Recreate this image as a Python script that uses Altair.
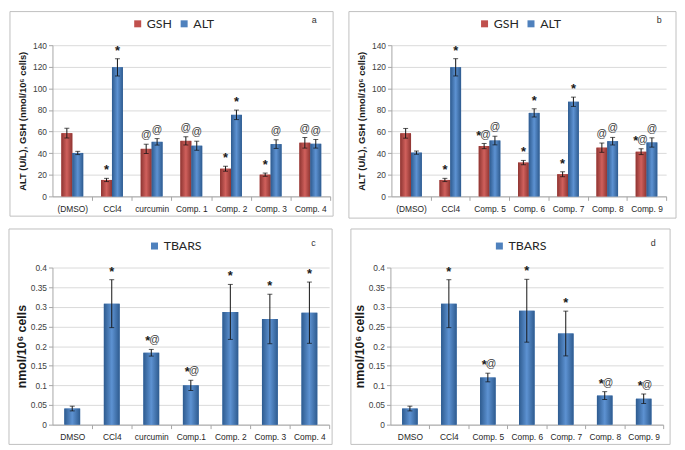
import altair as alt
import pandas as pd

# ---------------- data ----------------
cats_a = ["(DMSO)", "CCl4", "curcumin", "Comp. 1", "Comp. 2", "Comp. 3", "Comp. 4"]
a_gsh = [58.5, 15.2, 44.0, 51.4, 25.6, 20.1, 49.6]
a_gsh_err = [4.5, 1.5, 4.3, 3.8, 2.3, 1.5, 4.9]
a_alt = [40.2, 119.5, 50.5, 46.9, 75.5, 48.4, 48.7]
a_alt_err = [1.5, 8.0, 3.0, 4.2, 4.4, 4.0, 4.0]
a_gsh_sig = ["", "*", "@", "@", "*", "*", "@"]
a_alt_sig = ["", "*", "@", "@", "*", "@", "@"]

cats_b = ["(DMSO)", "CCl4", "Comp. 5", "Comp. 6", "Comp. 7", "Comp. 8", "Comp. 9"]
b_gsh = [58.4, 15.2, 46.6, 31.3, 20.5, 45.1, 41.4]
b_gsh_err = [4.5, 1.5, 2.4, 2.0, 2.3, 4.3, 2.7]
b_alt = [40.5, 119.5, 51.7, 77.3, 87.6, 51.1, 49.9]
b_alt_err = [1.5, 8.0, 4.0, 3.8, 4.3, 3.5, 4.3]
b_gsh_sig = ["", "*", "*@", "*", "*", "@", "*@"]
b_alt_sig = ["", "*", "@", "*", "*", "@", "@"]

cats_c = ["DMSO", "CCl4", "curcumin", "Comp.1", "Comp. 2", "Comp. 3", "Comp. 4"]
c_tbars = [0.041, 0.308, 0.183, 0.100, 0.287, 0.269, 0.285]
c_err = [0.006, 0.061, 0.0085, 0.013, 0.070, 0.063, 0.078]
c_sig = ["", "*", "*@", "*@", "*", "*", "*"]

cats_d = ["DMSO", "CCl4", "Comp. 5", "Comp. 6", "Comp. 7", "Comp. 8", "Comp. 9"]
d_tbars = [0.041, 0.308, 0.120, 0.290, 0.232, 0.074, 0.066]
d_err = [0.006, 0.061, 0.011, 0.080, 0.057, 0.010, 0.012]
d_sig = ["", "*", "*@", "*", "*", "*@", "*@"]

title_ab = "ALT (U/L), GSH (nmol/10\u2076 cells)"
title_cd = "nmol/10\u2076 cells"

# ---------------- style ----------------
RED, BLUE = "#c0504d", "#4f81bd"
LABEL_FONT = "Liberation Sans"


def grad(dark, light):
    return alt.Gradient(
        gradient="linear",
        stops=[alt.GradientStop(color=dark, offset=0),
               alt.GradientStop(color=light, offset=0.5),
               alt.GradientStop(color=dark, offset=1)],
        x1=0, x2=1, y1=0, y2=0)


RED_G = grad("#8e3532", "#d0605c")
BLUE_G = grad("#2e5b8f", "#5d92d2")


def y_axis(title, values, tsize, tpad, fmt):
    return alt.Axis(values=values, grid=True, gridColor="#d9d9d9", domainColor="#a6a6a6",
                    tickColor="#a6a6a6", tickSize=4, labelFont=LABEL_FONT, labelFontSize=8.5,
                    labelColor="#404040", labelPadding=2, title=title, titleFont=LABEL_FONT,
                    titleFontSize=tsize, titleFontWeight="bold", titleColor="#1a1a1a",
                    minExtent=22, maxExtent=22, titlePadding=tpad, format=fmt)


def x_axis(step, fs):
    return alt.Axis(title=None, labelAngle=0, grid=False, domainColor="#a6a6a6",
                    tickColor="#a6a6a6", tickSize=4, tickOffset=step / 2, labelOffset=-step / 2,
                    labelFont=LABEL_FONT, labelFontSize=fs, labelColor="#262626", labelPadding=4)


def legend(legx):
    return alt.Legend(orient="none", legendX=legx, legendY=-28, direction="horizontal",
                      title=None, symbolType="square", symbolSize=50, labelFont="Lato",
                      labelFontSize=12.5, labelColor="#262626", columnPadding=6, labelOffset=3,
                      symbolStrokeWidth=0)


def frame(W, H, bl, br, bt, bb, letter, lx):
    one = pd.DataFrame({"k": [0]})
    border = alt.Chart(one).mark_rect(fillOpacity=0, stroke="#bfbfbf", strokeWidth=1).encode(
        x=alt.value(-bl), x2=alt.value(W + br), y=alt.value(-bt), y2=alt.value(H + bb))
    let = alt.Chart(one).mark_text(font=LABEL_FONT, fontSize=9, color="#333333").encode(
        x=alt.value(lx), y=alt.value(-25), text=alt.value(letter))
    return border, let


def sig_layers(base, enc, shift):
    star_kw = dict(font=LABEL_FONT, fontSize=13, fontWeight="bold", color="#1a1a1a",
                   baseline="alphabetic", dy=-4)
    at_kw = dict(font=LABEL_FONT, fontSize=10.5, color="#3a3a3a", baseline="alphabetic", dy=-6)
    star = base.transform_filter(alt.datum.sig == "*").mark_text(**star_kw).encode(
        **enc, text=alt.value("*"))
    at = base.transform_filter(alt.datum.sig == "@").mark_text(**at_kw).encode(
        **enc, text=alt.value("@"))
    cstar = base.transform_filter(alt.datum.sig == "*@").mark_text(
        align="right", dx=-1 + shift, **star_kw).encode(**enc, text=alt.value("*"))
    cat = base.transform_filter(alt.datum.sig == "*@").mark_text(
        align="left", dx=-2 + shift, **at_kw).encode(**enc, text=alt.value("@"))
    return [star, at, cstar, cat]


def grouped_panel(cats, gsh, gsh_e, altv, alt_e, gsh_s, alt_s, letter, W, H, bl, br, bt, bb, legx, lx):
    rows = []
    for i, c in enumerate(cats):
        rows.append(dict(cat=c, series="GSH", value=gsh[i], lo=gsh[i] - gsh_e[i],
                         hi=gsh[i] + gsh_e[i], sig=gsh_s[i]))
        rows.append(dict(cat=c, series="ALT", value=altv[i], lo=altv[i] - alt_e[i],
                         hi=altv[i] + alt_e[i], sig=alt_s[i]))
    df = pd.DataFrame(rows)
    step = W / len(cats)
    x = alt.X("cat:N", sort=cats, scale=alt.Scale(paddingInner=0.45, paddingOuter=0.225),
              axis=x_axis(step, 8.5))
    xo = alt.XOffset("series:N", sort=["GSH", "ALT"],
                     scale=alt.Scale(domain=["GSH", "ALT"], paddingInner=0, paddingOuter=0))
    ysc = alt.Scale(domain=[0, 140], nice=False)
    yax = y_axis(title_ab, list(range(0, 141, 20)), 9.5, 3, "d")
    base = alt.Chart(df)
    bars = base.mark_bar().encode(
        x=x, xOffset=xo, y=alt.Y("value:Q", scale=ysc, axis=yax),
        color=alt.Color("series:N", sort=["GSH", "ALT"],
                        scale=alt.Scale(domain=["GSH", "ALT"], range=[RED, BLUE]),
                        legend=legend(legx)))
    over_g = base.transform_filter(alt.datum.series == "GSH").mark_bar(fill=RED_G).encode(
        x=x, xOffset=xo, y=alt.Y("value:Q", scale=ysc, axis=yax))
    over_a = base.transform_filter(alt.datum.series == "ALT").mark_bar(fill=BLUE_G).encode(
        x=x, xOffset=xo, y=alt.Y("value:Q", scale=ysc, axis=yax))
    rules = base.mark_rule(color="#111111", strokeWidth=1).encode(
        x=x, xOffset=xo, y=alt.Y("lo:Q", scale=ysc, axis=yax), y2="hi:Q")
    cap_lo = base.mark_tick(color="#111111", size=5, thickness=1).encode(
        x=x, xOffset=xo, y=alt.Y("lo:Q", scale=ysc, axis=yax))
    cap_hi = base.mark_tick(color="#111111", size=5, thickness=1).encode(
        x=x, xOffset=xo, y=alt.Y("hi:Q", scale=ysc, axis=yax))
    txt = sig_layers(base, dict(x=x, xOffset=xo, y=alt.Y("hi:Q", scale=ysc, axis=yax)), -2)
    border, let = frame(W, H, bl, br, bt, bb, letter, lx)
    return alt.layer(border, bars, over_g, over_a, rules, cap_lo, cap_hi, *txt, let).properties(
        width=W, height=H)


def single_panel(cats, vals, errs, sigs, letter, W, H, bl, br, bt, bb, legx, lx):
    df = pd.DataFrame(dict(cat=cats, series=["TBARS"] * len(cats), value=vals,
                           lo=[v - e for v, e in zip(vals, errs)],
                           hi=[v + e for v, e in zip(vals, errs)], sig=sigs))
    step = W / len(cats)
    x = alt.X("cat:N", sort=cats, scale=alt.Scale(paddingInner=0.6, paddingOuter=0.3),
              axis=x_axis(step, 8.5))
    ysc = alt.Scale(domain=[0, 0.4], nice=False)
    yax = y_axis(title_cd, [0, 0.05, 0.1, 0.15, 0.2, 0.25, 0.3, 0.35, 0.4], 12.5, 2, "~g")
    base = alt.Chart(df)
    bars = base.mark_bar().encode(
        x=x, y=alt.Y("value:Q", scale=ysc, axis=yax),
        color=alt.Color("series:N", scale=alt.Scale(domain=["TBARS"], range=[BLUE]),
                        legend=legend(legx)))
    over = base.mark_bar(fill=BLUE_G).encode(x=x, y=alt.Y("value:Q", scale=ysc, axis=yax))
    rules = base.mark_rule(color="#111111", strokeWidth=1).encode(
        x=x, y=alt.Y("lo:Q", scale=ysc, axis=yax), y2="hi:Q")
    cap_lo = base.mark_tick(color="#111111", size=5, thickness=1).encode(
        x=x, y=alt.Y("lo:Q", scale=ysc, axis=yax))
    cap_hi = base.mark_tick(color="#111111", size=5, thickness=1).encode(
        x=x, y=alt.Y("hi:Q", scale=ysc, axis=yax))
    txt = sig_layers(base, dict(x=x, y=alt.Y("hi:Q", scale=ysc, axis=yax)), 0)
    border, let = frame(W, H, bl, br, bt, bb, letter, lx)
    return alt.layer(border, bars, over, rules, cap_lo, cap_hi, *txt, let).properties(
        width=W, height=H)


pa = grouped_panel(cats_a, a_gsh, a_gsh_err, a_alt, a_alt_err, a_gsh_sig, a_alt_sig, "a",
                   281, 153, 43, 3, 34, 20, 80, 265)
pb = grouped_panel(cats_b, b_gsh, b_gsh_err, b_alt, b_alt_err, b_gsh_sig, b_alt_sig, "b",
                   278, 153, 43, 10, 34, 22, 88, 271)
pc = single_panel(cats_c, c_tbars, c_err, c_sig, "c", 280, 159, 44, 3, 39, 20, 97, 264)
pd_ = single_panel(cats_d, d_tbars, d_err, d_sig, "d", 276, 159, 40, 7, 39, 20, 104, 266)

row1 = alt.hconcat(pa, pb, spacing=14).resolve_scale(
    color="independent", xOffset="independent").resolve_legend(color="independent")
row2 = alt.hconcat(pc, pd_, spacing=17).resolve_scale(
    color="independent").resolve_legend(color="independent")

chart = alt.vconcat(row1, row2, spacing=9).resolve_scale(
    color="independent", xOffset="independent").resolve_legend(color="independent").properties(
    padding={"left": 0, "top": 0, "right": 0, "bottom": 0}, background="white"
).configure_view(stroke=None)

chart.save("out.html", embed_options={"renderer": "svg", "actions": False})
